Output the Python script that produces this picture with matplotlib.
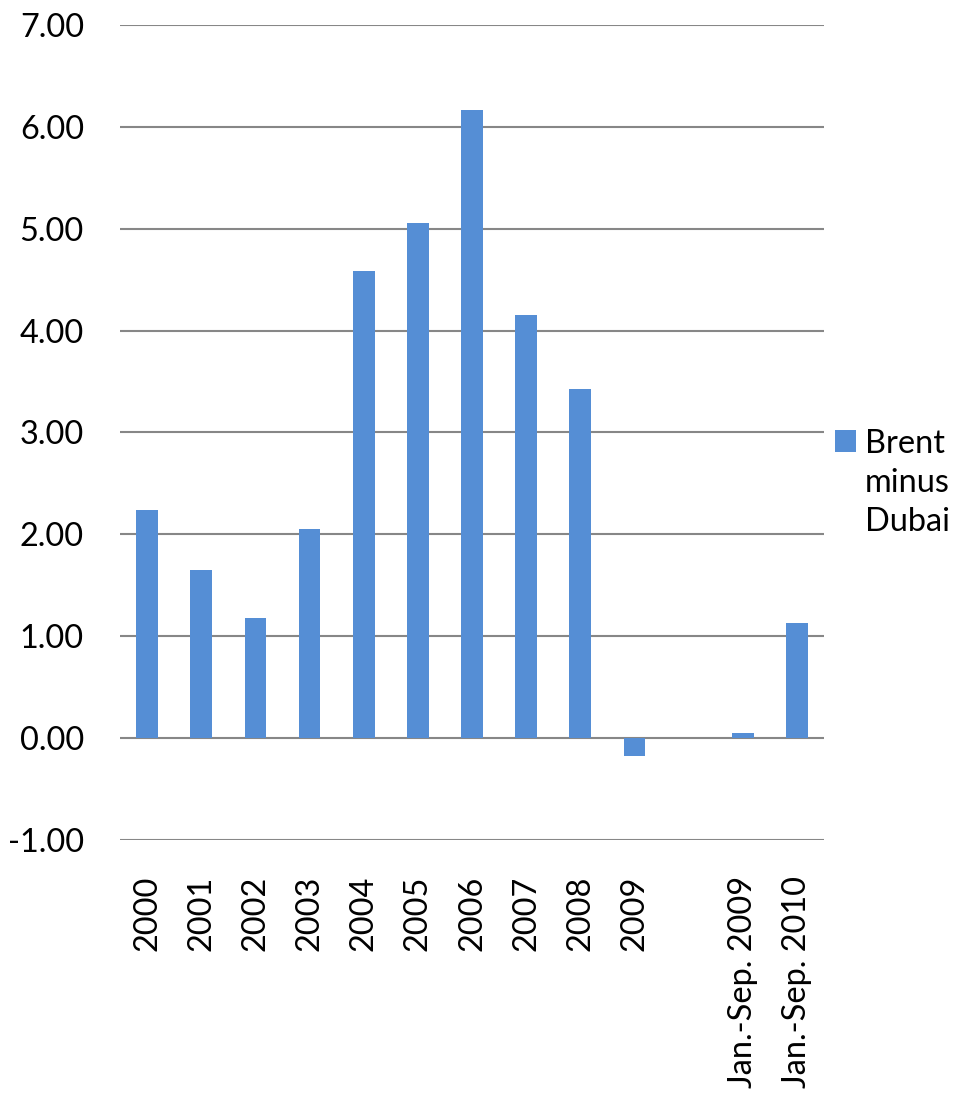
import matplotlib.pyplot as plt
from matplotlib.patches import Patch
import numpy as np

plt.rcParams['font.family'] = ['Lato', 'DejaVu Sans']

categories = ['2000', '2001', '2002', '2003', '2004', '2005', '2006', '2007',
              '2008', '2009', '', 'Jan.-Sep. 2009', 'Jan.-Sep. 2010']
spread = [2.24, 1.65, 1.18, 2.05, 4.58, 5.06, 6.17, 4.15, 3.43, -0.18,
          np.nan, 0.05, 1.13]
yticks = [-1, 0, 1, 2, 3, 4, 5, 6, 7]

bar_color = '#558ED5'
grid_color = '#878787'
fs = 23.4

fig = plt.figure(figsize=(9.59, 10.97), dpi=100)
ax = fig.add_axes([120 / 959, 1 - 839.7 / 1097, 704 / 959, 814.7 / 1097])

x = np.arange(len(categories))
ax.bar(x, spread, width=0.4, color=bar_color, zorder=3)

ax.set_xlim(-0.5, len(categories) - 0.5)
ax.set_ylim(-1, 7)
ax.set_yticks(yticks)
ax.set_yticklabels(['%.2f' % v for v in yticks], fontsize=fs)
ax.set_xticks(x)
ax.set_xticklabels(categories, rotation=90, fontsize=fs, va='top', ha='center')
ax.tick_params(axis='y', length=0, pad=26)
ax.tick_params(axis='x', length=0, pad=26)
ax.grid(axis='y', color=grid_color, linewidth=1.5, zorder=0)
for s in ax.spines.values():
    s.set_visible(False)

leg = fig.legend(handles=[Patch(facecolor=bar_color)],
                 labels=['Brent\nminus\nDubai'],
                 loc='upper left', bbox_to_anchor=(822 / 959, 1 - 416 / 1097),
                 frameon=False, fontsize=fs, handlelength=0.65,
                 handleheight=0.65, handletextpad=0.28, borderaxespad=0)
for t in leg.get_texts():
    t.set_linespacing(1.38)
# put the colour square next to the first line, as in the original
h = leg.legend_handles[0]
h.set_y(h.get_y() + 30.5)

fig.savefig('out.png', dpi=100)
